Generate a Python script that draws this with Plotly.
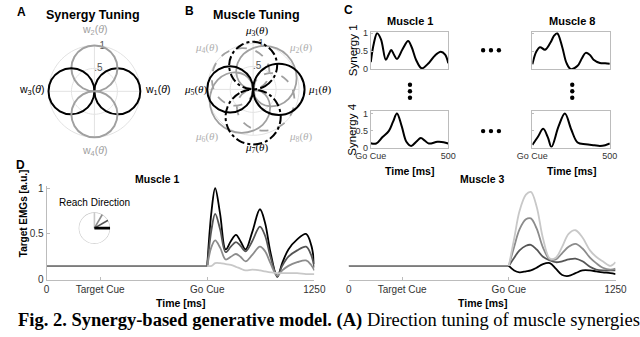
import plotly.graph_objects as go

W, H = 640, 337


def fx(p):
    return p / W


def fy(p):
    return 1 - p / H


# ---------------- DATA ----------------
# Panel A: synergy tuning (preferred directions, profile sampled every 15 deg)
synergy_dirs = [0, 90, 180, 270]
synergy_names = ["w<sub>1</sub>(<i>θ</i>)", "w<sub>2</sub>(<i>θ</i>)",
                 "w<sub>3</sub>(<i>θ</i>)", "w<sub>4</sub>(<i>θ</i>)"]
tuning_offsets = [-90, -75, -60, -45, -30, -15, 0, 15, 30, 45, 60, 75, 90]
synergy_profile = [0, 0.26, 0.5, 0.71, 0.87, 0.97, 1.0, 0.97, 0.87, 0.71, 0.5, 0.26, 0]

# Panel B: muscle tuning
muscle_dirs = [0, 45, 90, 135, 180, 225, 270, 315]
muscle_names = ["<i>μ</i><sub>%d</sub>(<i>θ</i>)" % k for k in range(1, 9)]
lobe_offsets = [-135, -120, -105, -90, -75, -60, -45, -30, -15, 0,
                15, 30, 45, 60, 75, 90, 105, 120, 135]
mu1_r = [0, 0.29, 0.56, 0.79, 0.97, 1.08, 1.12, 1.08, 0.97, 0.79, 0.56, 0.29, 0]
mu3_r = [0, 0.27, 0.52, 0.74, 0.90, 1.00, 1.04, 1.00, 0.90, 0.74, 0.52, 0.27, 0]
mu5_r = [0, 0.26, 0.50, 0.71, 0.87, 0.97, 1.00, 0.97, 0.87, 0.71, 0.50, 0.26, 0]
mu7_r = [0, 0.31, 0.60, 0.85, 1.04, 1.16, 1.20, 1.16, 1.04, 0.85, 0.60, 0.31, 0]
mu2_r = [0, 0.18, 0.36, 0.52, 0.67, 0.80, 0.90, 0.98, 1.03, 1.05, 1.03, 0.98, 0.90, 0.80, 0.67, 0.52, 0.36, 0.18, 0]
mu6_r = [0, 0.18, 0.36, 0.52, 0.67, 0.80, 0.90, 0.98, 1.03, 1.05, 1.03, 0.98, 0.90, 0.80, 0.67, 0.52, 0.36, 0.18, 0]
mu4_r = [0, 0.17, 0.34, 0.50, 0.64, 0.76, 0.86, 0.93, 0.98, 1.00, 0.98, 0.93, 0.86, 0.76, 0.64, 0.50, 0.34, 0.17, 0]
mu8_r = [0, 0.17, 0.34, 0.50, 0.64, 0.76, 0.86, 0.93, 0.98, 1.00, 0.98, 0.93, 0.86, 0.76, 0.64, 0.50, 0.34, 0.17, 0]

# Panel C: synergy waveforms (time in ms after Go Cue)
c11_t = [0, 20, 41, 66, 97, 115, 132, 150, 169, 205, 241, 265, 292, 329, 375, 415, 452, 480, 500]
c11_v = [0.19, 0.72, 1.0, 0.83, 0.26, 0.40, 0.53, 0.40, 0.28, 0.55, 0.78, 0.60, 0.26, 0.02, 0.17, 0.38, 0.48, 0.40, 0.16]
c18_t = [0, 25, 49, 82, 117, 140, 160, 193, 220, 247, 292, 320, 344, 370, 395, 436, 470, 500]
c18_v = [0.13, 0.48, 0.61, 0.54, 0.74, 0.93, 1.0, 0.61, 0.17, 0.0, 0.09, 0.30, 0.45, 0.40, 0.26, 0.17, 0.16, 0.15]
c41_t = [0, 35, 76, 117, 144, 169, 200, 230, 261, 295, 323, 350, 375, 430, 470, 500]
c41_v = [0.13, 0.12, 0.31, 0.49, 0.76, 1.0, 0.62, 0.17, 0.05, 0.18, 0.28, 0.20, 0.12, 0.17, 0.16, 0.12]
c48_t = [0, 35, 70, 100, 123, 169, 210, 251, 292, 344, 400, 436, 470, 500]
c48_v = [0.08, 0.31, 0.55, 0.30, 0.02, 0.62, 1.0, 0.53, 0.15, 0.10, 0.07, 0.05, 0.07, 0.12]

# Panel D: target EMGs
d_ticks = [0, 250, 750, 1250]
d_ticktext = ["0", "Target Cue", "Go Cue", "1250"]
baseline_t = [0, 750]
baseline_v = [0.15, 0.15]
reach_dirs = [0, 30, 60, 90]

m1_t = [750, 770, 787, 810, 836, 860, 884, 905, 929, 960, 996, 1020, 1045, 1077, 1100, 1129, 1170, 1211, 1235, 1250]
m1_black = [0.15, 0.75, 1.0, 0.72, 0.33, 0.42, 0.49, 0.42, 0.33, 0.52, 0.77, 0.62, 0.30, 0.03, 0.18, 0.33, 0.44, 0.50, 0.38, 0.17]
m1_dark = [0.15, 0.55, 0.72, 0.55, 0.30, 0.36, 0.41, 0.37, 0.31, 0.42, 0.58, 0.48, 0.25, 0.04, 0.15, 0.25, 0.32, 0.36, 0.27, 0.13]
m1_mid = [0.15, 0.36, 0.43, 0.35, 0.22, 0.25, 0.28, 0.25, 0.20, 0.27, 0.36, 0.31, 0.18, 0.04, 0.10, 0.15, 0.19, 0.21, 0.16, 0.10]
m1_light = [0.15, 0.15, 0.18, 0.18, 0.17, 0.16, 0.14, 0.12, 0.10, 0.11, 0.10, 0.09, 0.08, 0.07, 0.07, 0.07, 0.07, 0.06, 0.06, 0.06]

m3_t = [750, 775, 800, 830, 853, 880, 910, 942, 970, 1000, 1030, 1062, 1095, 1130, 1159, 1190, 1226, 1250]
m3_black = [0.15, 0.10, 0.08, 0.09, 0.10, 0.13, 0.17, 0.18, 0.12, 0.05, 0.04, 0.07, 0.10, 0.10, 0.09, 0.08, 0.07, 0.06]
m3_dark = [0.15, 0.24, 0.32, 0.37, 0.38, 0.33, 0.25, 0.21, 0.19, 0.20, 0.22, 0.23, 0.20, 0.14, 0.11, 0.10, 0.10, 0.10]
m3_mid = [0.15, 0.36, 0.55, 0.66, 0.67, 0.56, 0.35, 0.22, 0.22, 0.29, 0.36, 0.39, 0.34, 0.24, 0.18, 0.13, 0.11, 0.12]
m3_light = [0.15, 0.45, 0.75, 0.93, 0.96, 0.80, 0.45, 0.23, 0.24, 0.36, 0.50, 0.54, 0.46, 0.32, 0.25, 0.20, 0.15, 0.19]

# ---------------- STYLES ----------------
SANS = "Liberation Sans, Arial, sans-serif"
SERIF = "Liberation Serif, Times New Roman, serif"
GRID = "#e2e2e2"
AXC = "#bcbcbc"
TXT = "#333333"
BLACK = "#000000"
DARK = "#555555"
MID = "#8c8c8c"
LIGHT = "#c8c8c8"
GREY_TUNE = "#a0a0a0"

fig = go.Figure()

# ---------------- POLAR GRIDS (A, B) ----------------
grid_theta = list(range(0, 361, 5))
for sp in ["polar", "polar2"]:
    for rr in [0.5, 1.0]:
        fig.add_trace(go.Scatterpolar(r=[rr] * len(grid_theta), theta=grid_theta, mode="lines",
                                      line=dict(color=GRID, width=1), subplot=sp,
                                      hoverinfo="skip", showlegend=False))
    for a in [0, 90, 180, 270]:
        fig.add_trace(go.Scatterpolar(r=[0, 1], theta=[a, a], mode="lines",
                                      line=dict(color=GRID, width=1), subplot=sp,
                                      hoverinfo="skip", showlegend=False))
    fig.add_trace(go.Scatterpolar(r=[0.5, 1.0], theta=[80, 80], mode="text", text=[".5", "1"],
                                  textfont=dict(family=SANS, size=10, color="#555555"),
                                  subplot=sp, hoverinfo="skip", showlegend=False))

# Panel A curves
syn_colors = [BLACK, GREY_TUNE, BLACK, GREY_TUNE]
for d, col in zip(synergy_dirs, syn_colors):
    fig.add_trace(go.Scatterpolar(r=synergy_profile, theta=[d + o for o in tuning_offsets],
                                  mode="lines", line=dict(color=col, width=2, shape="spline"),
                                  subplot="polar", hoverinfo="skip", showlegend=False))

# Panel B curves
grey_lobes = [(mu2_r, muscle_dirs[1], "solid"), (mu4_r, muscle_dirs[3], "dash"),
              (mu6_r, muscle_dirs[5], "solid"), (mu8_r, muscle_dirs[7], "dash")]
for rvals, d, dash in grey_lobes:
    fig.add_trace(go.Scatterpolar(r=rvals, theta=[d + o for o in lobe_offsets], mode="lines",
                                  line=dict(color=GREY_TUNE, width=1.8, dash=dash, shape="spline"),
                                  subplot="polar2", hoverinfo="skip", showlegend=False))
black_lobes = [(mu1_r, muscle_dirs[0], "solid"), (mu3_r, muscle_dirs[2], "dashdot"),
               (mu5_r, muscle_dirs[4], "solid"), (mu7_r, muscle_dirs[6], "dashdot")]
for rvals, d, dash in black_lobes:
    fig.add_trace(go.Scatterpolar(r=rvals, theta=[d + o for o in tuning_offsets], mode="lines",
                                  line=dict(color=BLACK, width=2, dash=dash, shape="spline"),
                                  subplot="polar2", hoverinfo="skip", showlegend=False))

# Reach direction inset (polar3)
fig.add_trace(go.Scatterpolar(r=[1] * len(grid_theta), theta=grid_theta, mode="lines",
                              line=dict(color=LIGHT, width=1.2), subplot="polar3",
                              hoverinfo="skip", showlegend=False))
reach_styles = [(LIGHT, 1.6), (MID, 1.6), (DARK, 1.6), (BLACK, 2.6)]
for d, (col, wd) in zip(reversed(reach_dirs), reach_styles):
    fig.add_trace(go.Scatterpolar(r=[0, 1], theta=[d, d], mode="lines",
                                  line=dict(color=col, width=wd), subplot="polar3",
                                  hoverinfo="skip", showlegend=False))

# ---------------- PANEL C ----------------
c_sets = [(c11_t, c11_v, "x", "y"), (c18_t, c18_v, "x2", "y2"),
          (c41_t, c41_v, "x3", "y3"), (c48_t, c48_v, "x4", "y4")]
for t, v, xa, ya in c_sets:
    fig.add_trace(go.Scatter(x=t, y=v, mode="lines", xaxis=xa, yaxis=ya,
                             line=dict(color=BLACK, width=2, shape="spline", smoothing=1.0),
                             hoverinfo="skip", showlegend=False))

# ---------------- PANEL D ----------------
m1_series = [(m1_black, BLACK), (m1_dark, DARK), (m1_mid, MID), (m1_light, LIGHT)]
m3_series = [(m3_black, BLACK), (m3_dark, DARK), (m3_mid, MID), (m3_light, LIGHT)]
for xa, ya in [("x5", "y5"), ("x6", "y6")]:
    for col in [LIGHT, BLACK, DARK, MID]:
        fig.add_trace(go.Scatter(x=baseline_t, y=baseline_v, mode="lines", xaxis=xa, yaxis=ya,
                                 line=dict(color=col, width=1.8), hoverinfo="skip", showlegend=False))
for vals, col in m1_series:
    fig.add_trace(go.Scatter(x=m1_t, y=vals, mode="lines", xaxis="x5", yaxis="y5",
                             line=dict(color=col, width=1.8, shape="spline", smoothing=1.0),
                             hoverinfo="skip", showlegend=False))
for vals, col in m3_series:
    fig.add_trace(go.Scatter(x=m3_t, y=vals, mode="lines", xaxis="x6", yaxis="y6",
                             line=dict(color=col, width=1.8, shape="spline", smoothing=1.0),
                             hoverinfo="skip", showlegend=False))


# ---------------- LAYOUT ----------------
def polar_domain(cx, cy, rad):
    return dict(x=[fx(cx - rad), fx(cx + rad)], y=[fy(cy + rad), fy(cy - rad)])


def polar_cfg(cx, cy, rad, rmax):
    return dict(domain=polar_domain(cx, cy, rad), bgcolor="rgba(0,0,0,0)",
                radialaxis=dict(visible=False, range=[0, rmax]),
                angularaxis=dict(visible=False, direction="counterclockwise", rotation=0))


tickfont = dict(family=SANS, size=9, color=TXT)


def c_xaxis(x0, x1, anchor, labels):
    return dict(domain=[fx(x0), fx(x1)], range=[0, 500], anchor=anchor,
                tickvals=[0, 500], ticktext=["Go Cue", "500"], showticklabels=labels,
                showline=True, mirror=True, linecolor=AXC, linewidth=1, ticks="inside",
                ticklen=2, tickcolor=AXC, showgrid=False, zeroline=False, tickfont=tickfont)


def c_yaxis(y0, y1, anchor, labels, top):
    return dict(domain=[fy(y1), fy(y0)], range=[0, top], anchor=anchor,
                tickvals=[0, 0.5, 1], ticktext=["0", "0.5", "1"], showticklabels=labels,
                showline=True, mirror=True, linecolor=AXC, linewidth=1, ticks="inside",
                ticklen=2, tickcolor=AXC, showgrid=False, zeroline=False, tickfont=tickfont)


dtickfont = dict(family=SANS, size=10, color=TXT)


def d_xaxis(x0, x1, anchor):
    return dict(domain=[fx(x0), fx(x1)], range=[0, 1250], anchor=anchor,
                tickvals=d_ticks, ticktext=d_ticktext, showline=True, linecolor=AXC,
                ticks="inside", ticklen=3, tickcolor=AXC, showgrid=False, zeroline=False,
                tickfont=dtickfont)


layout = dict(
    width=W, height=H, margin=dict(l=0, r=0, t=0, b=0),
    paper_bgcolor="white", plot_bgcolor="white", showlegend=False,
    polar=polar_cfg(82, 90, 60, 1.25),
    polar2=polar_cfg(248, 88, 60, 1.25),
    polar3=polar_cfg(82, 231, 16.5, 1.0),
    xaxis=c_xaxis(371, 452, "y", False),
    yaxis=c_yaxis(29, 67, "x", True, 1.03),
    xaxis2=c_xaxis(540, 621, "y2", False),
    yaxis2=c_yaxis(29, 67, "x2", False, 1.03),
    xaxis3=c_xaxis(371, 452, "y3", True),
    yaxis3=c_yaxis(110, 148, "x3", True, 1.08),
    xaxis4=c_xaxis(540, 621, "y4", True),
    yaxis4=c_yaxis(110, 148, "x4", False, 1.08),
    xaxis5=d_xaxis(32, 312, "y5"),
    yaxis5=dict(domain=[fy(284), fy(188)], range=[0, 1.02], anchor="x5",
                tickvals=[0, 0.5, 1], ticktext=["0", "0.5", "1"], showline=True,
                linecolor=AXC, ticks="inside", ticklen=3, tickcolor=AXC, showgrid=False,
                zeroline=False, tickfont=dtickfont),
    xaxis6=d_xaxis(348, 627, "y6"),
    yaxis6=dict(domain=[fy(284), fy(188)], range=[0, 1.02], anchor="x6", visible=False),
)

ann = []


def add_text(x, y, text, size=10, bold=False, color=BLACK, family=SANS, angle=0,
             xanchor="center", yanchor="middle"):
    ann.append(dict(x=fx(x), y=fy(y), xref="paper", yref="paper", showarrow=False,
                    text=("<b>%s</b>" % text) if bold else text, textangle=angle,
                    font=dict(family=family, size=size, color=color),
                    xanchor=xanchor, yanchor=yanchor))


# panel letters and titles
add_text(6, 8, "A", 12, True)
add_text(181, 7, "B", 12, True)
add_text(348, 6, "C", 12, True)
add_text(5, 166, "D", 12, True)
add_text(81, 11, "Synergy Tuning", 12.5, True)
add_text(251, 11, "Muscle Tuning", 12.5, True)

# A labels
add_text(133, 89, synergy_names[0], 10.5, xanchor="left")
add_text(82, 27, synergy_names[1], 10.5, color=GREY_TUNE)
add_text(31, 89, synergy_names[2], 10.5, xanchor="right")
add_text(82, 151, synergy_names[3], 10.5, color=GREY_TUNE)

# B labels
mu_pos = [(303, 89, "left", BLACK), (298, 45, "center", "#b0b0b0"), (251, 28, "center", BLACK),
          (199, 45, "center", "#b0b0b0"), (202, 89, "right", BLACK), (199, 137, "center", "#b0b0b0"),
          (251, 148, "center", BLACK), (298, 137, "center", "#b0b0b0")]
for name, (x, y, xa, col) in zip(muscle_names, mu_pos):
    add_text(x, y, name, 11, color=col, family=SERIF, xanchor=xa)

# C labels
add_text(412, 18, "Muscle 1", 11, True)
add_text(581, 18, "Muscle 8", 11, True)
add_text(352, 48, "Synergy 1", 11.5, angle=-90)
add_text(352, 130, "Synergy 4", 11.5, angle=-90)
add_text(411, 172, "Time [ms]", 10.5, True)
add_text(581, 172, "Time [ms]", 10.5, True)

# D labels
add_text(148, 180, "Muscle 1", 10.5, True)
add_text(488, 180, "Muscle 3", 10.5, True)
add_text(8, 216, "Target EMGs [a.u.]", 10, True, angle=-90)
add_text(172, 308, "Time [ms]", 10.5, True)
add_text(488, 308, "Time [ms]", 10.5, True)
add_text(82, 205, "Reach Direction", 10)

# caption
add_text(0, 326, "<b>Fig. 2. Synergy-based generative model.</b> <b>(A)</b> Direction tuning of muscle synergies",
         18.5, family=SERIF, xanchor="left")

layout["annotations"] = ann

# ellipsis dots
shapes = []
dot_centres = [(488.5, 47.7), (496.7, 47.7), (505, 47.7),
               (488.5, 131), (496.7, 131), (505, 131),
               (412, 83.3), (412, 90), (412, 96.7),
               (581.7, 83.3), (581.7, 90), (581.7, 96.7)]
for cx, cy in dot_centres:
    shapes.append(dict(type="circle", xref="paper", yref="paper",
                       x0=fx(cx - 2.3), x1=fx(cx + 2.3), y0=fy(cy + 2.3), y1=fy(cy - 2.3),
                       fillcolor=BLACK, line=dict(width=0)))
layout["shapes"] = shapes

fig.update_layout(**layout)
fig.write_html("out.html", config={"displayModeBar": False},
               post_script="document.body.style.margin='0';document.body.style.padding='0';"
                           "document.body.style.overflow='hidden';")
